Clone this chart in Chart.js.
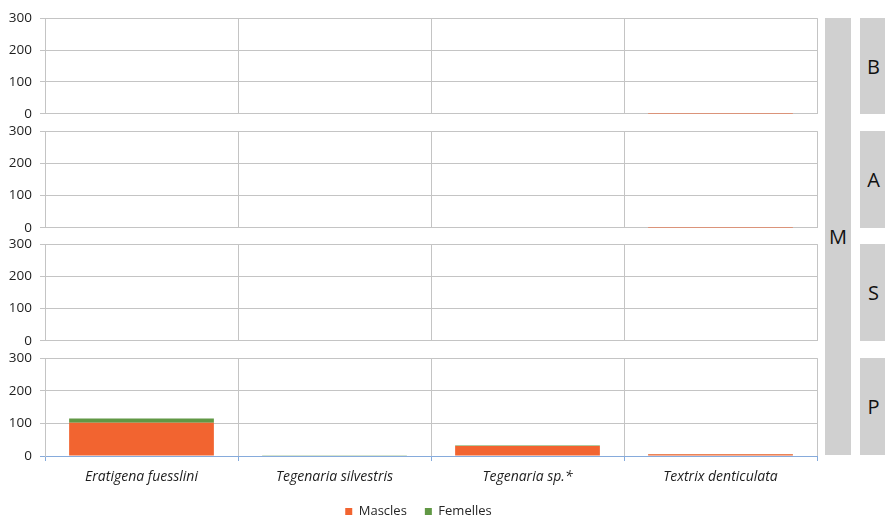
<!DOCTYPE html>
<html>
<head>
<meta charset="utf-8">
<script src="https://cdn.jsdelivr.net/npm/chart.js@4/dist/chart.umd.min.js"></script>
<style>
  html, body { margin: 0; padding: 0; background: #fff; }
  #wrap { position: relative; width: 885px; height: 516px; overflow: hidden; }
  canvas { position: absolute; left: 0; }
  .tag {
    position: absolute; background: #d0d0d0;
    display: flex; align-items: center; justify-content: center;
    font-family: "Open Sans", sans-serif; font-size: 20px; color: #111;
  }
</style>
</head>
<body>
<div id="wrap">
  <canvas id="pB"></canvas>
  <canvas id="pA"></canvas>
  <canvas id="pS"></canvas>
  <canvas id="pP"></canvas>
  <div class="tag" style="left:825px;top:18px;width:26px;height:437px;">M</div>
  <div class="tag" style="left:860px;top:18px;width:27px;height:96px;">B</div>
  <div class="tag" style="left:860px;top:131px;width:27px;height:97px;">A</div>
  <div class="tag" style="left:860px;top:244px;width:27px;height:97px;">S</div>
  <div class="tag" style="left:860px;top:358px;width:27px;height:97px;">P</div>
</div>
<script>
// Species on the x axis
const categories = ["Eratigena fuesslini", "Tegenaria silvestris", "Tegenaria sp.*", "Textrix denticulata"];

// Counts per panel (B, A, S, P)
const masclesB  = [0, 0, 0, 3];
const femellesB = [0, 0, 0, 0];
const masclesA  = [0, 0, 0, 3];
const femellesA = [0, 0, 0, 0];
const masclesS  = [0, 0, 0, 0];
const femellesS = [0, 0, 0, 1];
const masclesP  = [102, 0, 31, 5];
const femellesP = [13, 1, 1, 1];

const yTicks = [0, 100, 200, 300];

const ORANGE = "#f26430";
const GREEN = "#619845";
const GRID = "#c4c4c4";
const AXIS_BLUE = "#86abdc";
const FONT = '"Open Sans", sans-serif';

// plot area top/bottom (page px) for each panel
const panels = [
  { id: "pB", top: 18,  bottom: 114, m: masclesB, f: femellesB },
  { id: "pA", top: 131, bottom: 228, m: masclesA, f: femellesA },
  { id: "pS", top: 244, bottom: 341, m: masclesS, f: femellesS },
  { id: "pP", top: 358, bottom: 456, m: masclesP, f: femellesP }
];

const PAD_TOP = 10;
const PAD_BOTTOM = 8;
const CANVAS_W = 820;
const LEFT_AXIS_W = 45;
const X_AXIS_H = 31;     // species labels under the last panel
const LEGEND_ROOM = 34;  // legend under the species labels

// nudges the legend row sideways so it sits under the middle of the species
const legendShift = {
  id: "legendShift",
  afterLayout(chart, args, opts) {
    const lg = chart.legend;
    if (lg && opts.dx) { lg.left += opts.dx; lg.right += opts.dx; }
  }
};

function config(p, last) {
  return {
    type: "bar",
    data: {
      labels: categories,
      datasets: [
        { label: "Mascles", data: p.m, backgroundColor: ORANGE, borderWidth: 0,
          categoryPercentage: 1.0, barPercentage: 0.75 },
        { label: "Femelles", data: p.f, backgroundColor: GREEN, borderWidth: 0,
          categoryPercentage: 1.0, barPercentage: 0.75 }
      ]
    },
    plugins: [legendShift],
    options: {
      responsive: false,
      animation: false,
      devicePixelRatio: 1,
      layout: {
        padding: { top: PAD_TOP, right: CANVAS_W - 817, left: 0, bottom: last ? 0 : PAD_BOTTOM }
      },
      plugins: {
        tooltip: { enabled: false },
        legendShift: { dx: 10 },
        legend: {
          display: last,
          position: "bottom",
          labels: {
            boxWidth: 7, boxHeight: 7, padding: 18,
            color: "#262626",
            font: { family: FONT, size: 13 }
          }
        }
      },
      scales: {
        x: {
          stacked: true,
          offset: true,
          grid: {
            display: true, offset: true, color: GRID,
            drawTicks: last, tickLength: 5, tickColor: AXIS_BLUE
          },
          border: { display: last, color: AXIS_BLUE },
          ticks: {
            display: last, padding: 8, color: "#1e1e1e",
            font: { family: FONT, size: 14, style: "italic" }
          },
          afterFit: s => { s.height = last ? X_AXIS_H : 0; }
        },
        y: {
          stacked: true,
          min: 0, max: 300,
          afterBuildTicks: s => { s.ticks = yTicks.map(v => ({ value: v })); },
          grid: {
            color: ctx => (last && ctx.tick && ctx.tick.value === 0) ? AXIS_BLUE : GRID,
            tickLength: 5
          },
          border: { display: true, color: GRID },
          ticks: {
            padding: 8, color: "#1e1e1e",
            font: { family: FONT, size: 13.5 }
          },
          afterFit: s => { s.width = LEFT_AXIS_W; }
        }
      }
    }
  };
}

panels.forEach((p, i) => {
  const last = i === panels.length - 1;
  const cv = document.getElementById(p.id);
  const plotH = p.bottom - p.top;
  let h = PAD_TOP + plotH + (last ? X_AXIS_H + LEGEND_ROOM : PAD_BOTTOM);
  cv.width = CANVAS_W;
  cv.height = h;

  // first pass: see how tall the plot area came out, then size the canvas so it spans plotH
  let chart = new Chart(cv, config(p, last));
  const got = chart.chartArea.bottom - chart.chartArea.top;
  chart.destroy();
  h += plotH - got;
  cv.width = CANVAS_W;
  cv.height = h;
  chart = new Chart(cv, config(p, last));
  cv.style.top = (p.top - chart.chartArea.top) + "px";
});
</script>
</body>
</html>
